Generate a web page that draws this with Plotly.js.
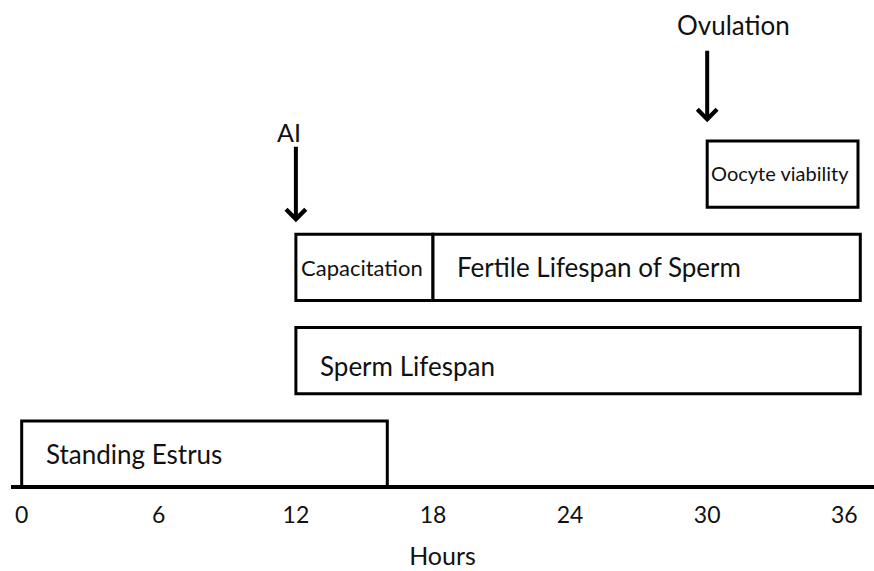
<!DOCTYPE html>
<html>
<head>
<meta charset="utf-8">
<script src="https://cdn.plot.ly/plotly-3.0.1.min.js"></script>
<style>html,body{margin:0;padding:0;background:#fff;}#chart{width:874px;height:571px;}</style>
</head>
<body>
<div id="chart"></div>
<script>
// ---- data ----
const phases = ['Standing Estrus', 'Sperm Lifespan', 'Capacitation', 'Fertile Lifespan of Sperm', 'Oocyte viability'];
const phaseRow = ['estrus', 'sperm', 'fertility', 'fertility', 'oocyte'];
const startHour = [0, 12, 12, 18, 30];
const endHour = [16, 36.7, 18, 36.7, 36.6];
const rowOrder = ['estrus', 'sperm', 'fertility', 'oocyte'];
const events = ['AI', 'Ovulation'];
const eventHour = [12, 30];
const tickHours = [0, 6, 12, 18, 24, 30, 36];
const xTitle = 'Hours';

// ---- styling (not data) ----
const FONT = 'Lato, "Open Sans", sans-serif';
const labelPad = [22, 22, 3, 22, 2];
const labelSize = [26, 26, 22, 26, 20];
const labelYShift = [0, -5, 0, 0, 1];
const eventTipPaper = [0.542, 0.748];
const eventTail = [-77, -73];
const eventTextPaper = [0.728, 0.948];
const eventTextShift = [-7, 26];
const eventSize = [25, 26];

const durations = startHour.map((s, i) => endHour[i] - s);

const bars = {
  type: 'bar',
  orientation: 'h',
  y: phaseRow,
  base: startHour,
  x: durations,
  width: 0.71,
  marker: {color: '#ffffff', line: {color: '#000000', width: 3}},
  hoverinfo: 'skip',
  showlegend: false
};

const annotations = [];
phases.forEach((p, i) => {
  annotations.push({
    x: startHour[i], y: phaseRow[i], xref: 'x', yref: 'y',
    xanchor: 'left', yanchor: 'middle', xshift: labelPad[i], yshift: labelYShift[i],
    text: p, showarrow: false,
    font: {family: FONT, size: labelSize[i], color: '#111'}
  });
});
events.forEach((e, i) => {
  annotations.push({
    x: eventHour[i], y: eventTipPaper[i], xref: 'x', yref: 'paper',
    text: '', showarrow: true, ax: 0, ay: eventTail[i],
    arrowhead: 4, arrowsize: 0.95, arrowwidth: 4, arrowcolor: '#000', standoff: 0,
    font: {size: 1}
  });
  annotations.push({
    x: eventHour[i], y: eventTextPaper[i], xref: 'x', yref: 'paper',
    xanchor: 'center', yanchor: 'middle', xshift: eventTextShift[i],
    text: e, showarrow: false,
    font: {family: FONT, size: eventSize[i], color: '#111'}
  });
});

const layout = {
  width: 874, height: 571,
  margin: {l: 11, r: 0, t: 0, b: 86},
  paper_bgcolor: '#fff', plot_bgcolor: '#fff',
  barmode: 'overlay',
  xaxis: {
    range: [-0.468, 37.3],
    tickmode: 'array', tickvals: tickHours, ticktext: tickHours.map(String),
    showgrid: false, zeroline: false,
    showline: true, linecolor: '#000', linewidth: 4,
    ticks: '', ticklabelstandoff: 6,
    tickfont: {family: FONT, size: 23, color: '#111'},
    title: {text: xTitle, font: {family: FONT, size: 25, color: '#111'}, standoff: 22}
  },
  yaxis: {
    type: 'category', categoryorder: 'array', categoryarray: rowOrder,
    range: [-0.332, 4.866],
    showgrid: false, zeroline: false, showline: false,
    showticklabels: false, ticks: ''
  },
  annotations: annotations
};

Plotly.newPlot('chart', [bars], layout, {displayModeBar: false, staticPlot: true});
</script>
</body>
</html>
